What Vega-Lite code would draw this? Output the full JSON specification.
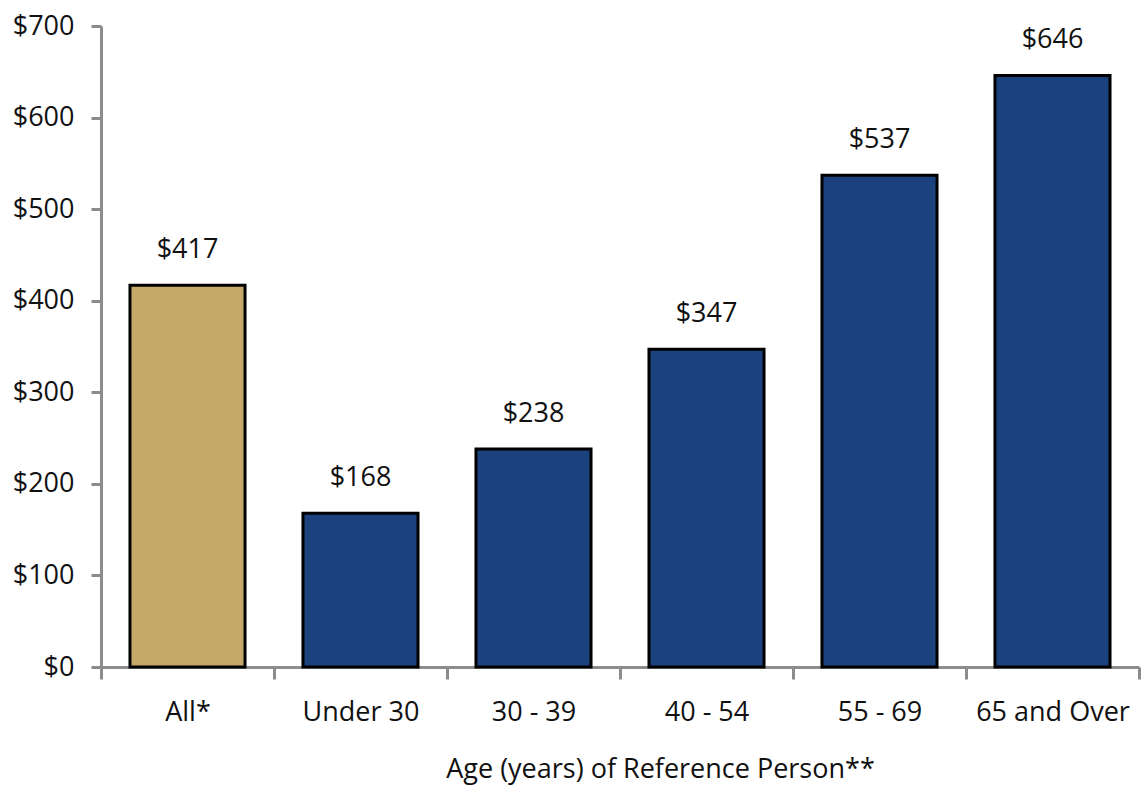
{
  "$schema": "https://vega.github.io/schema/vega-lite/v6.json",
  "autosize": "none",
  "padding": {"left": 101, "top": 26, "right": 3, "bottom": 118},
  "width": 1038,
  "height": 641,
  "background": "white",
  "config": {
    "view": {"stroke": null},
    "font": "Open Sans"
  },
  "data": {
    "values": [
      {"group": "All*", "value": 417, "kind": "all"},
      {"group": "Under 30", "value": 168, "kind": "age"},
      {"group": "30 - 39", "value": 238, "kind": "age"},
      {"group": "40 - 54", "value": 347, "kind": "age"},
      {"group": "55 - 69", "value": 537, "kind": "age"},
      {"group": "65 and Over", "value": 646, "kind": "age"}
    ]
  },
  "encoding": {
    "x": {
      "field": "group",
      "type": "nominal",
      "sort": null,
      "scale": {"paddingInner": 0, "paddingOuter": 0},
      "axis": {
        "title": "Age (years) of Reference Person**",
        "labelAngle": 0,
        "labelFontSize": 27,
        "labelColor": "#111111",
        "labelPadding": 20,
        "tickBand": "extent",
        "tickSize": 12,
        "tickWidth": 3,
        "tickColor": "#8c8c8c",
        "domainColor": "#8c8c8c",
        "domainWidth": 3,
        "titleFontSize": 27,
        "titleFontWeight": "normal",
        "titleColor": "#111111",
        "titleBaseline": "alphabetic",
        "titleX": 559,
        "titleY": 110
      }
    },
    "y": {
      "field": "value",
      "type": "quantitative",
      "scale": {"domain": [0, 700], "nice": false},
      "axis": {
        "title": null,
        "values": [0, 100, 200, 300, 400, 500, 600, 700],
        "format": "$,.0f",
        "grid": false,
        "labelFontSize": 27,
        "labelColor": "#111111",
        "labelPadding": 17,
        "tickSize": 10,
        "tickWidth": 3,
        "tickColor": "#8c8c8c",
        "domainColor": "#8c8c8c",
        "domainWidth": 3
      }
    }
  },
  "layer": [
    {
      "mark": {"type": "bar", "width": {"band": 0.665}, "stroke": "#000000", "strokeWidth": 3},
      "encoding": {
        "color": {
          "field": "kind",
          "type": "nominal",
          "scale": {"domain": ["all", "age"], "range": ["#C4A96A", "#1C427E"]},
          "legend": null
        }
      }
    },
    {
      "mark": {"type": "text", "baseline": "alphabetic", "dy": -27, "fontSize": 27, "color": "#111111"},
      "encoding": {
        "text": {"field": "value", "type": "quantitative", "format": "$,.0f"}
      }
    }
  ]
}
